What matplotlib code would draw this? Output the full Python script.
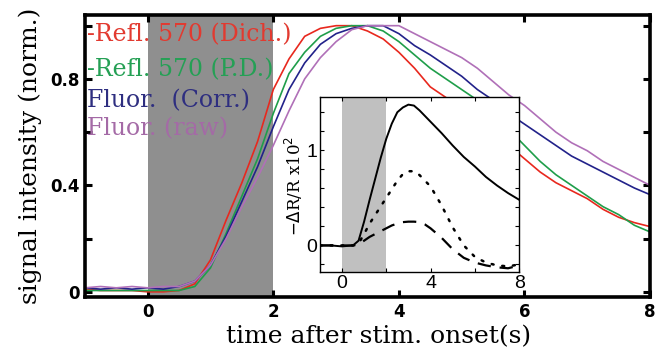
import matplotlib
matplotlib.use("Agg")
import matplotlib.pyplot as plt
import numpy as np

# time grid (s) shared by the main traces
t = [-1.0, -0.75, -0.5, -0.25, 0.0, 0.25, 0.5, 0.75, 1.0, 1.25, 1.5, 1.75,
     2.0, 2.25, 2.5, 2.75, 3.0, 3.25, 3.5, 3.75, 4.0, 4.25, 4.5, 4.75,
     5.0, 5.25, 5.5, 5.75, 6.0, 6.25, 6.5, 6.75, 7.0, 7.25, 7.5, 7.75, 8.0]

refl_dich = [0.01, 0.005, 0.005, 0.005, 0.0, 0.0, 0.005, 0.03, 0.12, 0.27, 0.41, 0.565,
             0.76, 0.875, 0.96, 0.99, 1.0, 1.0, 0.98, 0.95, 0.90, 0.84, 0.77, 0.73,
             0.69, 0.65, 0.60, 0.55, 0.50, 0.45, 0.41, 0.38, 0.35, 0.31, 0.28, 0.26, 0.245]
refl_pd = [0.005, 0.005, 0.005, 0.005, 0.005, 0.005, 0.005, 0.02, 0.09, 0.22, 0.36, 0.50,
           0.67, 0.82, 0.90, 0.96, 0.99, 1.0, 1.0, 0.98, 0.94, 0.89, 0.84, 0.80,
           0.76, 0.72, 0.67, 0.61, 0.55, 0.49, 0.44, 0.40, 0.36, 0.32, 0.29, 0.25, 0.225]
fluor_corr = [0.015, 0.01, 0.015, 0.01, 0.015, 0.01, 0.02, 0.04, 0.10, 0.21, 0.34, 0.47,
              0.62, 0.76, 0.86, 0.93, 0.97, 0.99, 1.0, 1.0, 0.97, 0.925, 0.89, 0.85,
              0.81, 0.76, 0.72, 0.67, 0.63, 0.59, 0.55, 0.51, 0.48, 0.45, 0.42, 0.39, 0.365]
fluor_raw = [0.015, 0.02, 0.015, 0.02, 0.015, 0.02, 0.02, 0.04, 0.10, 0.20, 0.32, 0.43,
             0.55, 0.68, 0.80, 0.88, 0.94, 0.985, 1.0, 1.0, 1.0, 0.97, 0.94, 0.91,
             0.88, 0.84, 0.79, 0.74, 0.70, 0.65, 0.60, 0.56, 0.53, 0.49, 0.46, 0.43, 0.40]

# inset traces (-dR/R x 10^2)
t_in = [-1.0, -0.5, 0.0, 0.5, 0.75, 1.0, 1.25, 1.5, 1.75, 2.0, 2.25, 2.5, 2.75,
        3.0, 3.25, 3.5, 3.75, 4.0, 4.5, 5.0, 5.5, 6.0, 6.5, 7.0, 7.5, 8.0]
in_solid = [0.0, 0.0, -0.01, 0.0, 0.05, 0.25, 0.48, 0.70, 0.92, 1.12, 1.28, 1.40, 1.45,
            1.48, 1.47, 1.42, 1.36, 1.30, 1.18, 1.05, 0.93, 0.83, 0.72, 0.63, 0.55, 0.48]
in_dotted = [0.0, 0.0, 0.0, 0.0, 0.02, 0.12, 0.23, 0.32, 0.41, 0.50, 0.59, 0.68, 0.75,
             0.78, 0.78, 0.74, 0.68, 0.62, 0.42, 0.19, 0.0, -0.12, -0.18, -0.21, -0.22, -0.20]
in_dashed = [0.0, 0.0, 0.0, 0.0, 0.01, 0.05, 0.09, 0.12, 0.15, 0.18, 0.21, 0.23, 0.245,
             0.25, 0.25, 0.245, 0.22, 0.18, 0.08, -0.04, -0.13, -0.18, -0.21, -0.23, -0.24, -0.21]

labels = ["-Refl. 570 (Dich.)", "-Refl. 570 (P.D.)", "Fluor.  (Corr.)", "Fluor. (raw)"]
line_cols = ["#e8281e", "#1f9e4a", "#22228a", "#b070b8"]
text_cols = ["#e23a30", "#25a055", "#2e2e80", "#a46aa6"]

serif = "DejaVu Serif"

fig = plt.figure(figsize=(6.58, 3.58), dpi=100)
ax = fig.add_axes([0.129, 0.170, 0.859, 0.788])

ax.axvspan(0, 2, color="#8f8f8f", lw=0, zorder=0)
for y, c in zip([refl_dich, refl_pd, fluor_corr, fluor_raw], line_cols):
    ax.plot(t, y, color=c, lw=1.2)

ax.set_xlim(-1, 8)
ax.set_ylim(-0.02, 1.04)
ax.set_xticks([0, 2, 4, 6, 8])
ax.set_xticklabels(["0", "2", "4", "6", "8"])
ax.set_yticks([0, 0.2, 0.4, 0.6, 0.8, 1.0])
ax.set_yticklabels(["0", "", "0.4", "", "0.8", ""])
ax.tick_params(direction="in", length=5, width=2.2, top=True, right=True,
               labelsize=12, pad=4)
for lab in ax.get_xticklabels() + ax.get_yticklabels():
    lab.set_fontweight("bold")
    lab.set_family("DejaVu Sans")
for s in ax.spines.values():
    s.set_linewidth(2.6)

ax.set_xlabel("time after stim. onset(s)", family=serif, fontsize=18)
ax.xaxis.set_label_coords(0.519, -0.10)
ax.set_ylabel("signal intensity (norm.)", family=serif, fontsize=18)
ax.yaxis.set_label_coords(-0.075, 0.5)

ys = [0.929, 0.805, 0.695, 0.596]
for lab, c, yy in zip(labels, text_cols, ys):
    ax.text(0.004, yy, lab, color=c, family=serif, fontsize=17,
            transform=ax.transAxes, va="center", ha="left")

# inset
ins = fig.add_axes([0.486, 0.240, 0.303, 0.489])
ins.axvspan(0, 2, color="#c0c0c0", lw=0, zorder=0)
ins.plot(t_in, in_solid, color="black", lw=1.4)
ins.plot(t_in, in_dotted, color="black", lw=1.8, ls=(0, (0.8, 3.5)), dash_capstyle="round")
ins.plot(t_in, in_dashed, color="black", lw=1.6, ls=(0, (6, 4)))
ins.set_xlim(-1, 8)
ins.set_ylim(-0.28, 1.56)
ins.set_xticks([0, 2, 4, 6, 8])
ins.set_xticklabels(["0", "", "4", "", "8"])
ins.set_yticks([-0.2, 0, 0.2, 0.4, 0.6, 0.8, 1.0, 1.2, 1.4])
ins.set_yticklabels(["", "0", "", "", "", "", "1", "", ""])
ins.tick_params(direction="in", length=3, width=0.8, top=True, right=True,
                labelsize=14, pad=2)
for lab in ins.get_xticklabels() + ins.get_yticklabels():
    lab.set_family("Liberation Sans")
for s in ins.spines.values():
    s.set_linewidth(1.0)
ins.set_ylabel(r"$-\Delta$R/R x10$^2$", family=serif, fontsize=12)
ins.yaxis.set_label_coords(-0.075, 0.49)

fig.savefig("out.png", dpi=100)
